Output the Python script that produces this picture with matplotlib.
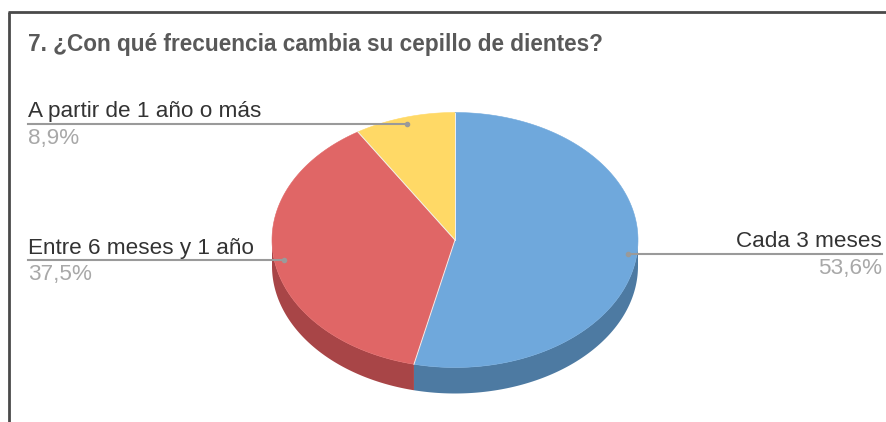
import numpy as np
import matplotlib.pyplot as plt
from matplotlib.patches import Polygon

# survey answers, in the order they go round the pie (clockwise from 12 o'clock)
labels = ["Cada 3 meses", "Entre 6 meses y 1 año", "A partir de 1 año o más"]
shares = [53.6, 37.5, 8.9]
pct_text = ["53,6%", "37,5%", "8,9%"]
top_colors = ["#6fa8dc", "#e06666", "#ffd966"]
side_colors = ["#4d7aa2", "#a84547", "#b89a40"]
title = "7. ¿Con qué frecuencia cambia su cepillo de dientes?"

# pie geometry in pixel coordinates
cx, cy = 455, 240
rx, ry = 183, 127.5
depth = 26


def rim(a0, a1, n=120):
    # points on the top ellipse, angles measured clockwise from the top
    t = np.linspace(a0, a1, n)
    return np.column_stack([cx + rx * np.sin(t), cy - ry * np.cos(t)])


fig = plt.figure(figsize=(8.86, 4.22), dpi=100)
ax = fig.add_axes([0, 0, 1, 1])
ax.set_xlim(0, 886)
ax.set_ylim(422, 0)
ax.axis("off")

# outer frame (top and left edges only)
ax.plot([8, 886], [12, 12], color="#4a4a4a", lw=2, solid_capstyle="butt")
ax.plot([9, 9], [12, 422], color="#4a4a4a", lw=2, solid_capstyle="butt")

ax.text(28, 45, title, fontsize=16.3, fontweight="bold", color="#595959",
        va="center", ha="left", family="Liberation Sans")

fr = np.array(shares) / sum(shares)
edges = np.concatenate([[0], np.cumsum(fr)]) * 2 * np.pi

# front walls first
for i in range(len(shares)):
    a0 = max(edges[i], np.pi / 2)
    a1 = min(edges[i + 1], 3 * np.pi / 2)
    if a1 <= a0:
        continue
    arc = rim(a0, a1)
    low = arc[::-1] + [0, depth]
    ax.add_patch(Polygon(np.vstack([arc, low]), closed=True,
                         facecolor=side_colors[i], edgecolor="none"))

# top faces
for i in range(len(shares)):
    arc = rim(edges[i], edges[i + 1])
    ax.add_patch(Polygon(np.vstack([[cx, cy], arc]), closed=True,
                         facecolor=top_colors[i], edgecolor=top_colors[i], lw=0.4))

# light seams between slices
for a in edges[:-1]:
    ax.plot([cx, cx + rx * np.sin(a)], [cy, cy - ry * np.cos(a)],
            color="#f0f0f0", lw=0.7)

# leader lines with name above and percentage below
for i in range(len(shares)):
    mid = (edges[i] + edges[i + 1]) / 2
    px = cx + 0.95 * rx * np.sin(mid)
    py = cy - 0.95 * ry * np.cos(mid)
    right = np.sin(mid) > 0
    x_end = 882 if right else 28
    ax.plot([px, x_end], [py, py], color="#9a9a9a", lw=1.5)
    ax.plot(px, py, "o", color="#9a9a9a", ms=3)
    ha = "right" if right else "left"
    ax.text(x_end, py - 6.5, labels[i], fontsize=16.2, color="#333333",
            ha=ha, va="baseline", family="Liberation Sans")
    ax.text(x_end, py + 4, pct_text[i], fontsize=16.2, color="#a8a8a8",
            ha=ha, va="top", family="Liberation Sans")

fig.savefig("out.png", dpi=100, facecolor="white")
